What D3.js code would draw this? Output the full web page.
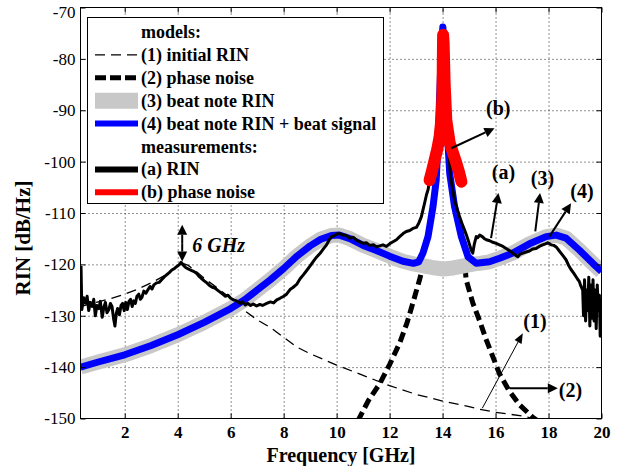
<!DOCTYPE html>
<html><head><meta charset="utf-8">
<script src="https://cdn.jsdelivr.net/npm/d3@7"></script>
<style>body{margin:0;background:#fff}svg{display:block}</style>
</head><body><svg id="c" width="625" height="466"></svg>
<script>
// ---------- data (frequency GHz, RIN dB/Hz) ----------
const xTicks = [2,4,6,8,10,12,14,16,18,20];
const yTicks = [-70,-80,-90,-100,-110,-120,-130,-140,-150];

const initialRIN = [[0.33,-128.2],[1,-127.3],[1.5,-126.6],[2,-125.8],[2.5,-124.8],[3,-123.6],[3.5,-122.2],[3.8,-121],[4.05,-120.1],[4.2,-119.8],[4.4,-120.2],[4.7,-121.4],[5,-122.7],[5.5,-124.6],[6,-126.6],[6.5,-128.9],[7,-130.8],[7.5,-132.3],[8,-134.2],[8.5,-136.1],[9,-137.4],[9.5,-138.5],[10,-139.6],[11,-141.6],[11.74,-143.1],[12,-143.6],[13,-145.3],[14,-146.6],[15,-147.7],[15.4,-148.2],[16,-148.8],[17,-149.5],[17.6,-150.2]];

const phaseNoiseLeft = [[10.8,-150.5],[11.2,-146.5],[11.63,-143.2],[12.0,-139.5],[12.38,-135.3],[12.65,-131.5],[12.88,-127.5],[13.13,-123],[13.25,-120.6]];
const phaseNoiseRight = [[14.85,-120.6],[14.89,-123],[15.14,-127.5],[15.4,-131],[15.65,-134.7],[15.9,-138],[16.15,-141.3],[16.5,-144.5],[16.9,-147.3],[17.39,-149.7],[17.6,-150.5]];

const beatNoteRIN = [[0.33,-140.0],[1,-139],[2,-137.6],[3,-135.8],[4,-133.7],[5,-131.3],[6,-128.6],[6.5,-127.0],[7,-125.0],[7.5,-123.0],[8,-120.8],[8.5,-118.4],[9,-116.4],[9.4,-115.1],[9.8,-114.4],[10.1,-114.3],[10.5,-115.0],[11,-116.3],[11.5,-117.3],[12,-118.4],[12.5,-119.4],[12.9,-119.9],[13.2,-120.2],[13.6,-120.6],[14.02,-120.9],[14.4,-120.7],[14.8,-120.3],[15.2,-119.9],[15.4,-119.8],[15.77,-119.5],[16.15,-118.8],[16.65,-117.8],[17.28,-116.0],[17.91,-114.6],[18.29,-114.3],[18.66,-114.9],[19.16,-117.2],[19.67,-119.8],[20,-121.4]];

const beatNoteSignal = [[0.33,-140.0],[1,-139],[2,-137.6],[3,-135.8],[4,-133.7],[5,-131.3],[6,-128.6],[6.5,-127.0],[7,-125.0],[7.5,-123.0],[8,-120.8],[8.5,-118.4],[9,-116.4],[9.4,-115.1],[9.8,-114.4],[10.1,-114.3],[10.5,-115.0],[11,-116.3],[11.5,-117.3],[12,-118.4],[12.5,-119.4],[12.9,-119.8],[13.1,-119.5],[13.26,-117.8],[13.45,-114.6],[13.64,-108.7],[13.76,-103.6],[13.82,-97],[13.87,-90],[13.92,-83],[13.97,-77],[14.01,-73.8],[14.06,-77],[14.11,-83],[14.16,-90],[14.21,-97],[14.27,-102.3],[14.45,-108.7],[14.71,-114.6],[14.96,-118.5],[15.27,-119.8],[15.77,-119.5],[16.15,-118.8],[16.65,-117.8],[17.28,-116.0],[17.91,-114.6],[18.29,-114.3],[18.66,-114.9],[19.16,-117.2],[19.67,-119.8],[20,-121.4]];

const measuredRIN = [[0.35,-120.3],[0.38,-128.8],[0.45,-126.5],[0.52,-127.5],[0.58,-126.2],[0.64,-129],[0.7,-127.4],[0.77,-128.2],[0.83,-126.8],[0.89,-130],[0.95,-128],[1.02,-128.6],[1.08,-127.2],[1.15,-130.3],[1.21,-128.4],[1.27,-127.4],[1.33,-129.4],[1.4,-128.8],[1.46,-127.6],[1.52,-128.2],[1.58,-130.6],[1.63,-132],[1.68,-129.6],[1.73,-128.6],[1.8,-129.8],[1.86,-128],[1.92,-127.6],[1.98,-129],[2.04,-127.4],[2.1,-128.8],[2.16,-127.2],[2.22,-126.8],[2.28,-128.2],[2.34,-127.1],[2.4,-127.6],[2.46,-126.2],[2.53,-125.8],[2.59,-126.8],[2.65,-126.4],[2.72,-125.2],[2.8,-125.6],[2.88,-124.9],[2.96,-124.3],[3.03,-124.8],[3.1,-124.0],[3.2,-123.6],[3.3,-123.5],[3.41,-122.9],[3.5,-122.4],[3.59,-122.0],[3.68,-121.6],[3.78,-121.1],[3.88,-120.8],[3.97,-120.4],[4.05,-120.1],[4.13,-119.6],[4.22,-120.2],[4.3,-120.6],[4.4,-120.9],[4.53,-121.2],[4.62,-121.4],[4.72,-121.8],[4.82,-122.4],[4.91,-122.8],[5.0,-123.2],[5.1,-123.6],[5.2,-124.1],[5.29,-124.4],[5.4,-124.6],[5.5,-125.0],[5.6,-125.4],[5.7,-125.8],[5.8,-126.2],[5.9,-126.0],[6.0,-126.6],[6.1,-126.9],[6.23,-127.1],[6.35,-127.6],[6.45,-127.3],[6.55,-127.9],[6.65,-127.6],[6.75,-128.0],[6.85,-127.7],[6.98,-128.1],[7.1,-127.8],[7.2,-128.0],[7.36,-127.6],[7.5,-127.3],[7.62,-127.5],[7.74,-126.9],[7.86,-126.6],[8.0,-126.2],[8.11,-125.8],[8.24,-124.9],[8.35,-124.5],[8.49,-123.9],[8.62,-122.8],[8.75,-122.0],[8.87,-121.2],[9.0,-120.3],[9.12,-119.4],[9.24,-118.6],[9.37,-117.9],[9.5,-117.0],[9.62,-116.2],[9.72,-115.2],[9.81,-114.6],[9.92,-114.4],[10.0,-114.1],[10.12,-114.0],[10.25,-114.3],[10.37,-114.4],[10.5,-114.9],[10.62,-114.7],[10.75,-115.3],[10.88,-115.6],[11.0,-115.9],[11.12,-115.8],[11.25,-116.3],[11.4,-116.2],[11.5,-116.6],[11.63,-116.4],[11.75,-116.2],[11.88,-116.5],[12.0,-116.0],[12.13,-115.6],[12.26,-115.2],[12.38,-114.6],[12.51,-114.0],[12.63,-113.6],[12.76,-113.4],[12.88,-113.0],[13.01,-112.8],[13.1,-112.0],[13.2,-110.7],[13.26,-109.4],[13.32,-108.1],[13.39,-106.5],[13.45,-105.5],[13.55,-102.5],[13.65,-99],[13.75,-95],[13.85,-90],[13.93,-85],[13.99,-80],[14.02,-76],[14.05,-75.5],[14.09,-80],[14.15,-88],[14.22,-96],[14.3,-103],[14.45,-107.5],[14.55,-109.2],[14.64,-110.7],[14.73,-112],[14.83,-113.3],[14.9,-114.3],[14.96,-115.2],[15.02,-116.2],[15.08,-117.2],[15.14,-117.8],[15.2,-116],[15.27,-114.6],[15.33,-114.8],[15.4,-114.3],[15.5,-114.6],[15.58,-115.0],[15.65,-115.2],[15.78,-115.4],[15.9,-115.7],[16.02,-115.9],[16.15,-116.2],[16.28,-116.5],[16.4,-116.9],[16.52,-117.3],[16.65,-117.8],[16.75,-118.2],[16.84,-118.5],[16.93,-118.0],[17.03,-117.8],[17.15,-117.6],[17.28,-117.4],[17.4,-117.0],[17.53,-116.9],[17.65,-116.5],[17.78,-116.2],[17.88,-116.0],[17.97,-115.8],[18.05,-116.0],[18.1,-116.2],[18.2,-116.3],[18.29,-116.6],[18.38,-117.2],[18.47,-117.8],[18.56,-118.4],[18.66,-119.1],[18.75,-120.1],[18.85,-121.0],[18.95,-121.7],[19.04,-122.4],[19.1,-122.9],[19.16,-123.3],[19.22,-124.2],[19.29,-125.0],[19.32,-130],[19.36,-123],[19.4,-131],[19.44,-125],[19.48,-129],[19.52,-122.5],[19.56,-132],[19.6,-124],[19.64,-130.5],[19.68,-123],[19.72,-131],[19.76,-125],[19.8,-132.5],[19.84,-124],[19.88,-129],[19.92,-126],[19.95,-134],[19.98,-127],[20,-131]];

const measuredPhaseNoise = [[13.51,-103.6],[13.6,-101.8],[13.7,-99.7],[13.8,-97.6],[13.89,-95.1],[13.97,-91],[14.0,-86],[14.01,-80],[14.02,-75.3],[14.04,-77],[14.08,-85],[14.14,-91.9],[14.27,-96.4],[14.4,-98.4],[14.52,-100.3],[14.62,-102],[14.71,-103.9]];

const legendLabels = ["(1) initial RIN","(2) phase noise","(3) beat note RIN","(4) beat note RIN + beat signal","(a) RIN","(b) phase noise"];
const annotLabels = ["(b)","(a)","(3)","(4)","(1)","(2)"];
const annotText = [[16.1,-89.6],[16.3,-102],[17.77,-103.2],[19.26,-105.8],[17.49,-131.1],[18.83,-144.4]];
const arrowFrom = [[14.33,-97.4],[15.83,-114.9],[17.5,-113.6],[18.03,-114.6],[15.5,-148.0],[16.53,-144.1]];
const arrowTo = [[15.96,-93.5],[16.11,-106.1],[17.68,-106.1],[18.85,-108.1],[17.03,-133.4],[18.35,-144.1]];
const resonanceMark = [[4.17,-112.3],[4.17,-119.45]];

// ---------- chart ----------
const L=80.5, R=601.5, T=7.5, B=418.5;
const x = d3.scaleLinear().domain([0.33,20]).range([L,R]);
const y = d3.scaleLinear().domain([-150,-70]).range([B,T]);
const svg = d3.select("#c");
const serif = "Liberation Serif";

svg.append("defs").append("clipPath").attr("id","clip")
  .append("rect").attr("x",L).attr("y",T).attr("width",R-L).attr("height",B-T);

// grid
const grid = svg.append("g");
grid.append("g").attr("transform",`translate(0,${B})`)
  .call(d3.axisBottom(x).tickValues(xTicks.slice(0,-1)).tickSize(-(B-T)).tickFormat(""))
  .call(g=>g.select(".domain").remove())
  .selectAll("line").attr("stroke","#222").attr("stroke-dasharray","1,3");
grid.append("g").attr("transform",`translate(${L},0)`)
  .call(d3.axisLeft(y).tickValues(yTicks.slice(1,-1)).tickSize(-(R-L)).tickFormat(""))
  .call(g=>g.select(".domain").remove())
  .selectAll("line").attr("stroke","#222").attr("stroke-dasharray","1,3");

const line = d3.line().x(d=>x(d[0])).y(d=>y(d[1]));
const plot = svg.append("g").attr("clip-path","url(#clip)");

plot.append("path").datum(initialRIN).attr("d",line).attr("fill","none")
  .attr("stroke","#000").attr("stroke-width",1.3).attr("stroke-dasharray","10,6");
[phaseNoiseLeft, phaseNoiseRight].forEach(s=>{
  plot.append("path").datum(s).attr("d",line).attr("fill","none")
    .attr("stroke","#000").attr("stroke-width",5).attr("stroke-dasharray","10,5");
});
plot.append("path").datum(beatNoteRIN).attr("d",line).attr("fill","none")
  .attr("stroke","#c8c8c8").attr("stroke-width",15).attr("stroke-linejoin","round");
plot.append("path").datum(beatNoteSignal).attr("d",line).attr("fill","none")
  .attr("stroke","#0000ff").attr("stroke-width",7).attr("stroke-linejoin","round");
plot.append("path").datum(measuredRIN).attr("d",line).attr("fill","none")
  .attr("stroke","#000").attr("stroke-width",3).attr("stroke-linejoin","round");
plot.append("path").datum(measuredPhaseNoise).attr("d",line).attr("fill","none")
  .attr("stroke","#ff0000").attr("stroke-width",12).attr("stroke-linejoin","round").attr("stroke-linecap","round");

// arrows
function arrow(p0,p1,w,len,hw){
  const x0=x(p0[0]),y0=y(p0[1]),x1=x(p1[0]),y1=y(p1[1]);
  const dx=x1-x0, dy=y1-y0, d=Math.hypot(dx,dy), ux=dx/d, uy=dy/d;
  const bx=x1-ux*len, by=y1-uy*len;
  svg.append("line").attr("x1",x0).attr("y1",y0).attr("x2",bx).attr("y2",by)
    .attr("stroke","#000").attr("stroke-width",w);
  svg.append("path").attr("d",`M${x1},${y1}L${bx-uy*hw},${by+ux*hw}L${bx+uy*hw},${by-ux*hw}Z`).attr("fill","#000");
}
annotLabels.forEach((t,i)=>{
  arrow(arrowFrom[i],arrowTo[i], i===4?1:2, 10, i===4?4:5);
  svg.append("text").attr("x",x(annotText[i][0])).attr("y",y(annotText[i][1]))
    .attr("text-anchor","middle").attr("dominant-baseline","central")
    .style("font-family",serif).attr("font-weight","bold").attr("font-size",20).text(t);
});
// 6 GHz double arrow
(function(){
  const m=[(resonanceMark[0][0]+resonanceMark[1][0])/2,(resonanceMark[0][1]+resonanceMark[1][1])/2];
  arrow(m,resonanceMark[0],2,10,5);
  arrow(m,resonanceMark[1],2,10,5);
  svg.append("text").attr("x",x(4.55)).attr("y",y(-117.5))
    .style("font-family",serif).attr("font-weight","bold").attr("font-style","italic")
    .attr("font-size",20).text("6 GHz");
})();

// axes with inward ticks
function styleAxis(g){ g.select(".domain").remove(); g.selectAll("line").attr("stroke","#000");
  g.selectAll("text").style("font-family",serif).attr("font-size",17).attr("fill","#000"); }
svg.append("g").attr("transform",`translate(0,${B})`)
  .call(d3.axisBottom(x).tickValues(xTicks).tickSize(-5).tickPadding(7).tickFormat(d3.format("d"))).call(styleAxis)
  .call(g=>g.selectAll("text").attr("font-weight","bold"));
svg.append("g").attr("transform",`translate(0,${T})`)
  .call(d3.axisTop(x).tickValues(xTicks).tickSize(-5).tickFormat("")).call(styleAxis);
svg.append("g").attr("transform",`translate(${L},0)`)
  .call(d3.axisLeft(y).tickValues(yTicks).tickSize(-5).tickPadding(5).tickFormat(d=>String(d))).call(styleAxis)
  .call(g=>g.selectAll("text").filter(d=>d===-70).attr("dy","0.6em"));
svg.append("g").attr("transform",`translate(${R},0)`)
  .call(d3.axisRight(y).tickValues(yTicks).tickSize(-5).tickFormat("")).call(styleAxis);
svg.append("rect").attr("x",L).attr("y",T).attr("width",R-L).attr("height",B-T)
  .attr("fill","none").attr("stroke","#000").attr("stroke-width",1);

// axis labels
svg.append("text").attr("x",341).attr("y",455).attr("text-anchor","middle").attr("dominant-baseline","central")
  .style("font-family",serif).attr("font-weight","bold").attr("font-size",20).text("Frequency [GHz]");
svg.append("text").attr("transform","translate(23,238) rotate(-90)").attr("text-anchor","middle").attr("dominant-baseline","central")
  .style("font-family",serif).attr("font-weight","bold").attr("font-size",21).text("RIN [dB/Hz]");

// legend
const lg = svg.append("g");
lg.append("rect").attr("x",87.5).attr("y",17.5).attr("width",296).attr("height",186)
  .attr("fill","#fff").attr("stroke","#000");
const rowY = i=>32+22.9*i;
const rows = [
  {t:"models:"},
  {t:legendLabels[0],s:"#000",w:1.3,da:"10,6"},
  {t:legendLabels[1],s:"#000",w:5,da:"11,4"},
  {t:legendLabels[2],s:"#c8c8c8",w:16},
  {t:legendLabels[3],s:"#0000ff",w:6},
  {t:"measurements:"},
  {t:legendLabels[4],s:"#000",w:6},
  {t:legendLabels[5],s:"#ff0000",w:6}
];
rows.forEach((r,i)=>{
  const yy=rowY(i);
  if(r.s) lg.append("line").attr("x1",95).attr("x2",138).attr("y1",yy).attr("y2",yy)
    .attr("stroke",r.s).attr("stroke-width",r.w).attr("stroke-dasharray",r.da||null);
  lg.append("text").attr("x",141).attr("y",yy).attr("dominant-baseline","central")
    .style("font-family",serif).attr("font-weight","bold").attr("font-size",18).text(r.t);
});
</script>
</body></html>
